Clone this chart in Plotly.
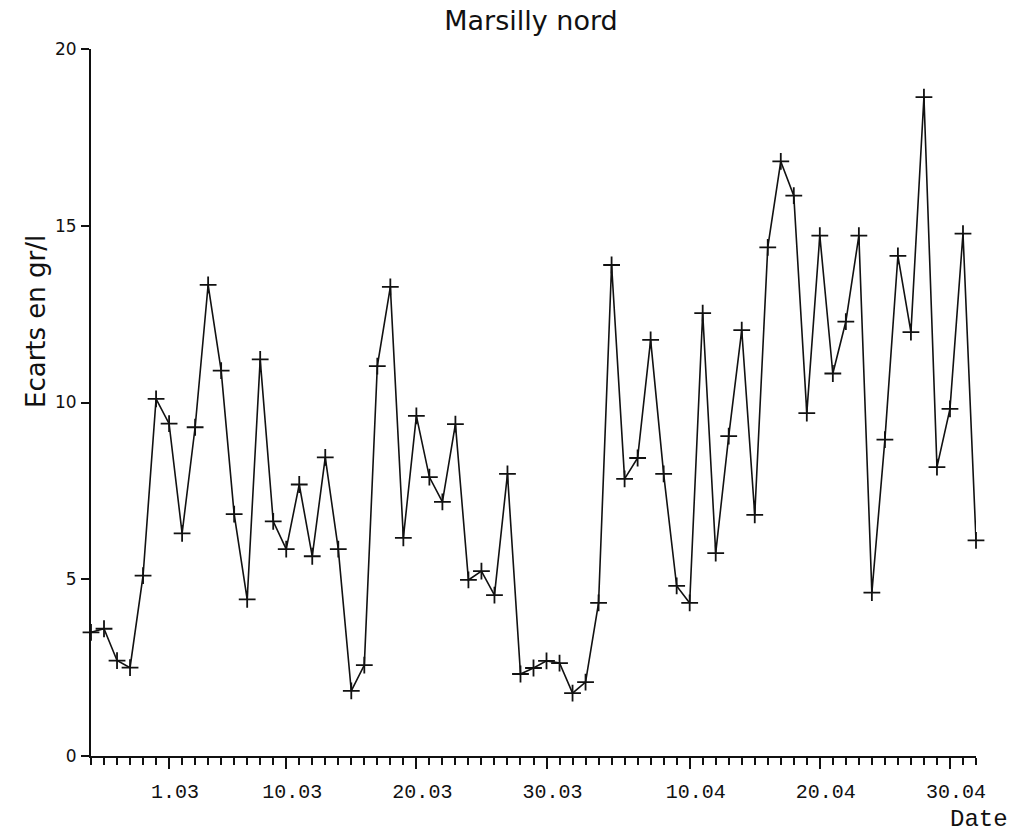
import pandas as pd
import plotly.graph_objects as go

# Daily deviations (g/l), 23 Feb -> 2 May
dates = pd.date_range("1994-02-23", "1994-05-02", freq="D")
ecarts = [
    3.5, 3.6, 2.7, 2.5, 5.1, 10.1, 9.4, 6.3, 9.3, 13.33,
    10.9, 6.84, 4.43, 11.22, 6.64, 5.85, 7.68, 5.65, 8.45, 5.85,
    1.84, 2.57, 11.03, 13.27, 6.17, 9.62, 7.89, 7.19, 9.39, 4.98,
    5.23, 4.55, 7.98, 2.32, 2.49, 2.69, 2.63, 1.78, 2.09, 4.33,
    13.89, 7.84, 8.43, 11.77, 7.98, 4.81, 4.33, 12.53, 5.74, 9.05,
    12.05, 6.82, 14.39, 16.82, 15.85, 9.70, 14.72, 10.82, 12.29, 14.72,
    4.62, 8.95, 14.15, 11.99, 18.64, 8.17, 9.82, 14.78, 6.10,
]

tick_dates = ["1994-03-01", "1994-03-10", "1994-03-20", "1994-03-30",
              "1994-04-10", "1994-04-20", "1994-04-30"]
tick_text = ["1.03", "10.03", "20.03", "30.03", "10.04", "20.04", "30.04"]
y_ticks = [0, 5, 10, 15, 20]

mono = "Liberation Mono"
sans = "DejaVu Sans"
ink = "#111111"

fig = go.Figure(
    go.Scatter(
        x=dates,
        y=ecarts,
        mode="lines+markers",
        line=dict(color=ink, width=1.6),
        marker=dict(symbol="cross-thin", size=12,
                    line=dict(color=ink, width=1.8)),
        cliponaxis=False,
        showlegend=False,
    )
)

fig.update_layout(
    width=1028,
    height=833,
    margin=dict(l=91, r=52, t=49, b=77),
    paper_bgcolor="white",
    plot_bgcolor="white",
    title=dict(
        text="Marsilly nord",
        font=dict(family=sans, size=27, color=ink),
        x=531 / 1028, xanchor="center", xref="container",
        y=1 - 21 / 833, yanchor="middle", yref="container",
    ),
    xaxis=dict(
        range=[dates[0], dates[-1]],
        tickmode="array",
        tickvals=tick_dates,
        ticktext=tick_text,
        ticks="outside",
        ticklen=11,
        tickwidth=2,
        tickcolor=ink,
        tickfont=dict(family=mono, size=20, color=ink),
        ticklabelstandoff=5,
        ticklabelshift=6,
        showline=True,
        linecolor=ink,
        linewidth=2,
        showgrid=False,
        zeroline=False,
        minor=dict(
            dtick=86400000,
            tick0=dates[0],
            ticks="outside",
            ticklen=7,
            tickwidth=1.5,
            tickcolor=ink,
            showgrid=False,
        ),
    ),
    yaxis=dict(
        range=[0, 20],
        tickmode="array",
        tickvals=y_ticks,
        ticktext=[str(v) for v in y_ticks],
        ticks="outside",
        ticklen=8,
        tickwidth=1.5,
        tickcolor=ink,
        tickfont=dict(family=sans, size=17, color=ink),
        ticklabelstandoff=1,
        showline=True,
        linecolor=ink,
        linewidth=2,
        showgrid=False,
        zeroline=False,
    ),
    annotations=[
        dict(
            text="Ecarts en gr/l",
            xref="paper", yref="paper",
            x=(36 - 91) / 885, y=(756 - 322) / 707,
            xanchor="center", yanchor="middle",
            textangle=-90, showarrow=False,
            font=dict(family=sans, size=26, color=ink),
        ),
        dict(
            text="Date",
            xref="paper", yref="paper",
            x=(979 - 91) / 885, y=-(819 - 756) / 707,
            xanchor="center", yanchor="middle",
            showarrow=False,
            font=dict(family=mono, size=24, color=ink),
        ),
    ],
)

fig.write_html("out.html")
